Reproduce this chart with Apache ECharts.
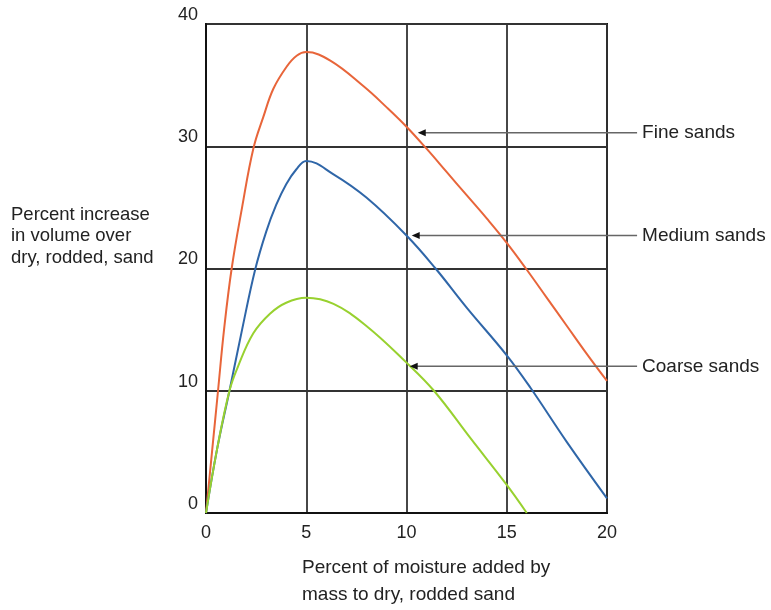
<!DOCTYPE html>
<html><head><meta charset="utf-8">
<script src="https://cdn.jsdelivr.net/npm/echarts@6/dist/echarts.min.js"></script>
<style>html,body{margin:0;padding:0;background:#fff}#c{width:771px;height:610px}</style>
</head><body><div id="c"></div>
<script>
const xTicks = [0, 5, 10, 15, 20];
const yTicks = [0, 10, 20, 30, 40];
const fineSands = [[0,0],[0.3,5],[0.6,10],[0.9,15],[1.28,20],[1.8,25],[2.36,29.8],[2.86,32.4],[3.36,34.7],[4.02,36.5],[4.52,37.4],[5,37.7],[6.2,37.0],[7.86,34.9],[9,33.2],[10,31.6],[11,29.8],[12,27.9],[13,26.0],[14,24.1],[15,22.1],[16,19.9],[17,17.6],[18,15.3],[19,13.0],[20,10.8]];
const mediumSands = [[0,0],[0.55,5.2],[1.17,10],[1.8,15],[2.45,19.9],[3.0,23.0],[3.5,25.2],[4.0,26.9],[4.5,28.1],[5,28.8],[6.36,27.7],[8,25.8],[10,22.7],[11.45,20],[13,16.8],[15,12.9],[16.2,10.2],[18,5.8],[20,1.2]];
const coarseSands = [[0,0],[0.55,5.2],[1.17,10],[1.6,12.0],[2.36,14.7],[3.19,16.3],[4,17.2],[5,17.6],[6.36,17.1],[8,15.3],[10,12.3],[11.37,10],[13.2,6.1],[15,2.3],[16,0]];
const seriesNames = ['Fine sands', 'Medium sands', 'Coarse sands'];
const arrowTips = [[10.56, 31.1], [10.26, 22.7], [10.16, 12.0]];
const arrowEndX = 21.5;
const yTitle = 'Percent increase\nin volume over\ndry, rodded, sand';
const xTitle = 'Percent of moisture added by\nmass to dry, rodded sand';

const FONT = "'Liberation Sans', Arial, Helvetica, sans-serif";
const colors = ['#E8653A', '#2F66A8', '#98D12F'];
const chart = echarts.init(document.getElementById('c'), null, {renderer: 'canvas'});

function mkSeries(name, data, color) {
  return {
    name, type: 'line', data, showSymbol: false, smooth: 0.4, clip: false,
    lineStyle: {color, width: 2}, itemStyle: {color}, animation: false
  };
}

chart.setOption({
  animation: false,
  backgroundColor: '#fff',
  grid: {left: 206, right: 164, top: 24, bottom: 97, show: true, borderColor: '#111', borderWidth: 2, backgroundColor: 'transparent'},
  xAxis: {
    type: 'value', min: xTicks[0], max: xTicks[xTicks.length-1], interval: 5,
    axisLine: {show: true, onZero: false, lineStyle: {color: '#111', width: 2}},
    axisTick: {show: false},
    splitLine: {show: true, lineStyle: {color: '#333', width: 1.8}},
    axisLabel: {color: '#222', fontSize: 18, fontFamily: FONT, margin: 11}
  },
  yAxis: {
    type: 'value', min: yTicks[0], max: yTicks[yTicks.length-1], interval: 10,
    axisLine: {show: true, onZero: false, lineStyle: {color: '#111', width: 2}},
    axisTick: {show: false},
    splitLine: {show: true, lineStyle: {color: '#333', width: 1.8}},
    axisLabel: {color: '#222', fontSize: 18, fontFamily: FONT, margin: 8, verticalAlign: 'bottom', lineHeight: 18}
  },
  series: [
    mkSeries(seriesNames[0], fineSands, colors[0]),
    mkSeries(seriesNames[1], mediumSands, colors[1]),
    mkSeries(seriesNames[2], coarseSands, colors[2])
  ]
});

const graphics = [
  {type: 'text', left: 11, top: 204, style: {text: yTitle, font: '18.5px ' + FONT, fill: '#222', lineHeight: 21.5}},
  {type: 'text', left: 302, top: 554, style: {text: xTitle, font: '19px ' + FONT, fill: '#222', lineHeight: 27}}
];
arrowTips.forEach((tip, i) => {
  const p0 = chart.convertToPixel({gridIndex: 0}, tip);
  const p1 = chart.convertToPixel({gridIndex: 0}, [arrowEndX, tip[1]]);
  graphics.push({type: 'line', shape: {x1: p0[0] + 6, y1: p0[1], x2: p1[0], y2: p1[1]}, style: {stroke: '#666', lineWidth: 1.5}, z: 10});
  graphics.push({type: 'polygon', shape: {points: [[p0[0], p0[1]], [p0[0] + 8, p0[1] - 3.5], [p0[0] + 8, p0[1] + 3.5]]}, style: {fill: '#111'}, z: 11});
  graphics.push({type: 'text', x: p1[0] + 5, y: p1[1], style: {text: seriesNames[i], font: '19px ' + FONT, fill: '#222', verticalAlign: 'middle', align: 'left'}, z: 11});
});
chart.setOption({graphic: graphics});
</script></body></html>
